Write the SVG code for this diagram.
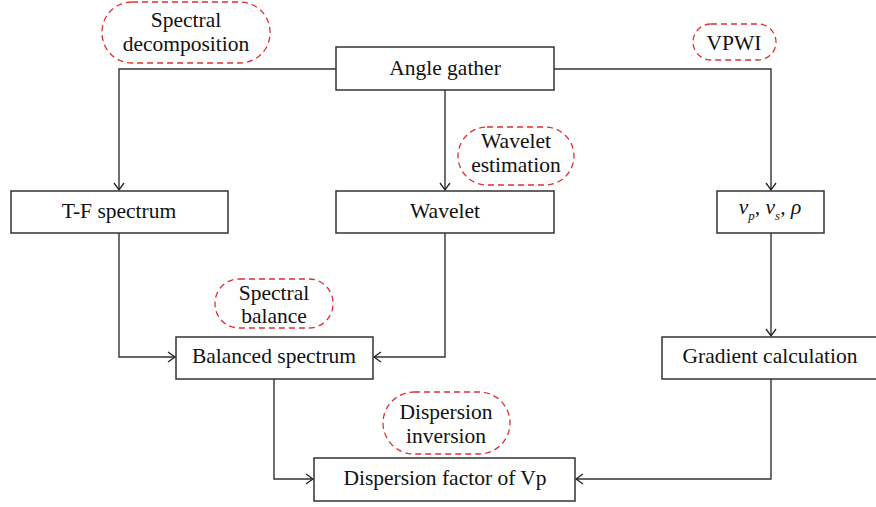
<svg xmlns="http://www.w3.org/2000/svg" width="876" height="507" viewBox="0 0 876 507">
<defs>
<marker id="arr" markerWidth="12" markerHeight="12" refX="10" refY="6" orient="auto" markerUnits="userSpaceOnUse">
<path d="M3,1 L10,6 L3,11" fill="none" stroke="#222" stroke-width="1.3"/>
</marker>
<style>
.box{fill:#fff;stroke:#333;stroke-width:1.5}
.note{fill:none;stroke:#e0302e;stroke-width:1.3;stroke-dasharray:6,4}
.t{font-family:"Liberation Serif","Times New Roman",serif;font-size:21.5px;fill:#111;text-anchor:middle}
.c{fill:none;stroke:#333;stroke-width:1.4}
</style>
</defs>
<rect width="876" height="507" fill="#fff"/>
<g id="connectors">
<path class="c" d="M336,69 H119 V190" marker-end="url(#arr)"/>
<path class="c" d="M445,90 V190" marker-end="url(#arr)"/>
<path class="c" d="M554,69 H771 V190" marker-end="url(#arr)"/>
<path class="c" d="M119,233 V357 H175" marker-end="url(#arr)"/>
<path class="c" d="M445,233 V357 H374" marker-end="url(#arr)"/>
<path class="c" d="M771,233 V336" marker-end="url(#arr)"/>
<path class="c" d="M274,379 V479 H313" marker-end="url(#arr)"/>
<path class="c" d="M771,379 V479 H576" marker-end="url(#arr)"/>
</g>
<g id="angle-gather"><rect class="box" x="336" y="47" width="218" height="43"/><text class="t" x="445" y="75">Angle gather</text></g>
<g id="tf-spectrum"><rect class="box" x="11" y="191" width="217" height="42"/><text class="t" x="119" y="218">T-F spectrum</text></g>
<g id="wavelet"><rect class="box" x="336" y="191" width="218" height="42"/><text class="t" x="445" y="218">Wavelet</text></g>
<g id="vp-vs-rho"><rect class="box" x="717" y="191" width="107" height="42"/><text class="t" x="770" y="214" font-style="italic">v<tspan font-size="13" dy="6">p</tspan><tspan dy="-6">, v</tspan><tspan font-size="13" dy="6">s</tspan><tspan dy="-6">, ρ</tspan></text></g>
<g id="balanced-spectrum"><rect class="box" x="176" y="337" width="197" height="42"/><text class="t" x="274" y="363">Balanced spectrum</text></g>
<g id="gradient-calculation"><rect class="box" x="662" y="337" width="216" height="42"/><text class="t" x="770" y="363">Gradient calculation</text></g>
<g id="dispersion-factor"><rect class="box" x="314" y="458" width="261" height="43"/><text class="t" x="445" y="485">Dispersion factor of Vp</text></g>
<g id="note-spectral-decomposition"><rect class="note" x="102" y="2" width="168" height="61" rx="30"/><text class="t" x="186" y="27">Spectral</text><text class="t" x="186" y="51">decomposition</text></g>
<g id="note-wavelet-estimation"><rect class="note" x="458" y="127" width="116" height="58" rx="29"/><text class="t" x="516" y="148">Wavelet</text><text class="t" x="516" y="172">estimation</text></g>
<g id="note-vpwi"><rect class="note" x="693" y="24" width="83" height="36" rx="18"/><text class="t" x="734" y="50">VPWI</text></g>
<g id="note-spectral-balance"><rect class="note" x="215" y="279" width="118" height="49" rx="24"/><text class="t" x="274" y="300">Spectral</text><text class="t" x="274" y="323">balance</text></g>
<g id="note-dispersion-inversion"><rect class="note" x="383" y="392" width="127" height="62" rx="31"/><text class="t" x="446" y="419">Dispersion</text><text class="t" x="446" y="443">inversion</text></g>
</svg>
